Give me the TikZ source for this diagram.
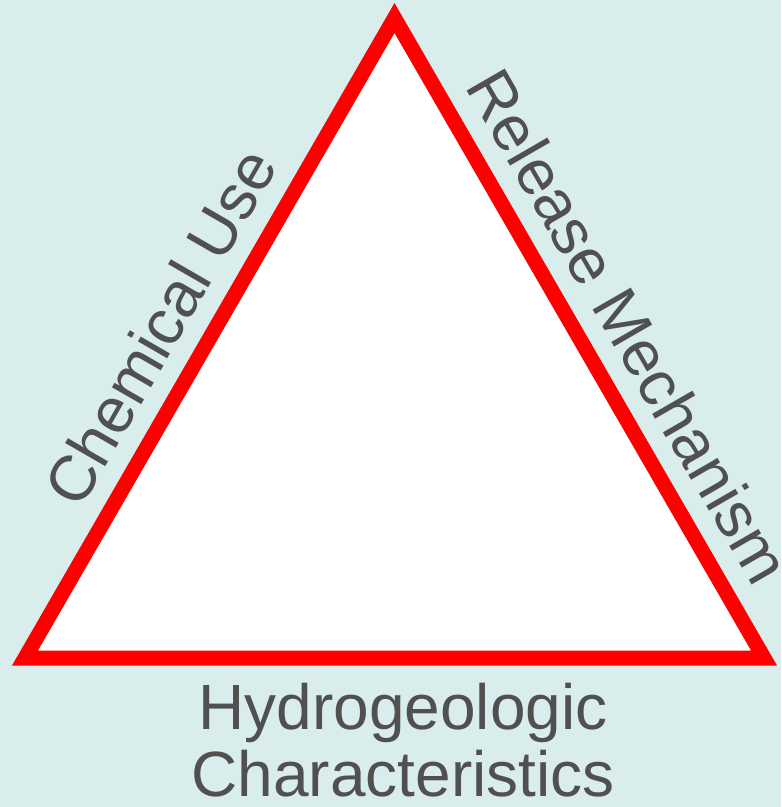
\documentclass[tikz,border=0pt]{standalone}
\usepackage{fontspec}
\setmainfont{Liberation Sans}
\usetikzlibrary{positioning}
\definecolor{PaleTeal}{RGB}{217,237,236}
\definecolor{LabelGray}{RGB}{80,80,80}
\definecolor{EdgeRed}{RGB}{255,0,0}
\begin{document}
\begin{tikzpicture}[x=0.02cm, y=-0.02cm,
    labeltext/.style={font=\fontsize{36.4}{38.1}\selectfont, text=LabelGray, inner sep=0pt},
    edgelabel/.style={labeltext, sloped}]

% background
\fill[PaleTeal] (0,0) rectangle (781,807);
\useasboundingbox (0,0) rectangle (781,807);

% triangle
\coordinate (apex) at (394.5,18);
\coordinate (left) at (25,658);
\coordinate (right) at (764,658);
\filldraw[fill=white, draw=EdgeRed, line width=0.3cm, line join=miter]
    (left) -- (apex) -- (right) -- cycle;

% labels along the sides
\path (left) -- node[edgelabel, pos=0.48, above=0.5cm] (chem) {Chemical Use} (apex);
\path (apex) -- node[edgelabel, pos=0.52, above=0.5cm] (release) {Release Mechanism} (right);

% label under the base
\node[labeltext, align=center, anchor=base] (hydro) at (403,796)
    {Hydrogeologic\\Characteristics};

\end{tikzpicture}
\end{document}
